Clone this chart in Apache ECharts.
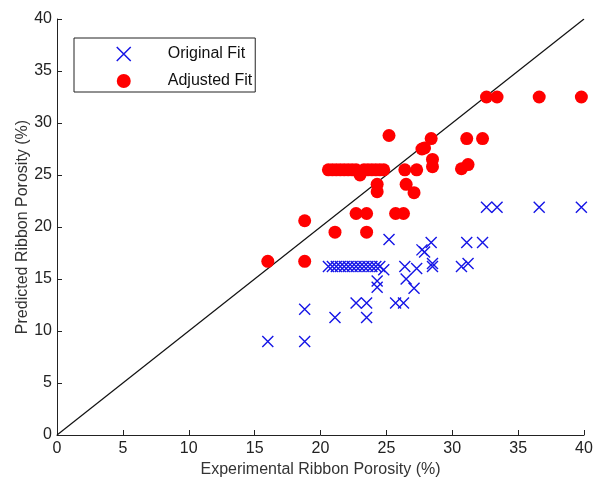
<!DOCTYPE html>
<html><head><meta charset="utf-8">
<script src="https://cdn.jsdelivr.net/npm/echarts@6/dist/echarts.min.js"></script>
<style>html,body{margin:0;padding:0;background:#fff}#c{width:596px;height:484px}</style>
</head><body><div id="c"></div>
<script>
const experimental = [16.0, 18.8, 18.8, 21.1, 23.5, 22.7, 23.5, 25.7, 26.3, 24.3, 24.3, 26.5, 27.1, 25.2, 28.4, 31.1, 32.3, 27.7, 27.9, 28.5, 28.5, 30.7, 31.2, 26.4, 27.3,
  20.6, 20.9, 21.2, 21.5, 21.8, 22.1, 22.4, 22.7, 23.0, 23.3, 23.6, 23.9, 24.2, 24.5, 24.8,
  32.6, 33.4, 36.6, 39.8];
const originalFit = [9.0, 9.0, 12.1, 11.3, 11.3, 12.7, 12.7, 12.7, 12.7, 14.8, 14.2, 15.0, 14.1, 18.8, 18.5, 18.5, 18.5, 17.8, 17.6, 16.5, 16.2, 16.2, 16.5, 16.2, 16.0,
  16.2, 16.2, 16.2, 16.2, 16.2, 16.2, 16.2, 16.2, 16.2, 16.2, 16.2, 16.2, 16.2, 16.2, 15.9,
  21.9, 21.9, 21.9, 21.9];
const adjustedFit = [16.7, 16.7, 20.6, 19.5, 19.5, 21.3, 21.3, 21.3, 21.3, 24.1, 23.4, 24.1, 23.3, 28.8, 28.5, 28.5, 28.5, 27.5, 27.6, 26.5, 25.8, 25.6, 26.0, 25.5, 25.5,
  25.5, 25.5, 25.5, 25.5, 25.5, 25.5, 25.5, 25.5, 25.0, 25.5, 25.5, 25.5, 25.5, 25.5, 25.5,
  32.5, 32.5, 32.5, 32.5];
const axisTicks = [0, 5, 10, 15, 20, 25, 30, 35, 40];
const identityLine = [[0, 0], [40, 40]];

const font = 'Arial, "Liberation Sans", sans-serif';
const crossPath = 'path://M0,0L10,10M10,0L0,10';
const chart = echarts.init(document.getElementById('c'));
const axisCommon = {
  type: 'value', min: axisTicks[0], max: axisTicks[axisTicks.length - 1], interval: 5,
  splitLine: {show: false},
  axisLine: {show: true, lineStyle: {color: '#222', width: 1}},
  axisTick: {show: true, inside: true, length: 5, lineStyle: {color: '#222'}},
  axisLabel: {color: '#222', fontSize: 16, fontFamily: font},
  nameLocation: 'middle',
  nameMoveOverlap: false,
  nameTextStyle: {color: '#333', fontSize: 16, fontFamily: font}
};
chart.setOption({
  animation: false,
  grid: {left: 57, right: 12, top: 19, bottom: 49},
  xAxis: Object.assign({}, axisCommon, {name: 'Experimental Ribbon Porosity (%)', nameGap: 27,
    axisLabel: Object.assign({}, axisCommon.axisLabel, {margin: 6})}),
  yAxis: Object.assign({}, axisCommon, {name: 'Predicted Ribbon Porosity (%)', nameGap: 26,
    axisLabel: Object.assign({}, axisCommon.axisLabel, {margin: 5})}),
  legend: {
    orient: 'vertical', left: 74, top: 38,
    borderColor: '#222', borderWidth: 1,
    padding: [8, 3, 3, 42],
    itemWidth: 14, itemHeight: 14, itemGap: 11,
    textStyle: {color: '#111', fontSize: 16, fontFamily: font, padding: [0, 0, 0, 32]},
    data: [
      {name: 'Original Fit', icon: crossPath, itemStyle: {color: 'transparent', borderColor: '#1515e6', borderWidth: 1.5}},
      {name: 'Adjusted Fit', icon: 'circle', itemStyle: {color: '#ff0000'}}
    ]
  },
  series: [
    {type: 'line', data: identityLine, symbol: 'none', silent: true,
     lineStyle: {color: '#111', width: 1.2}, z: 1},
    {name: 'Original Fit', type: 'scatter', symbol: crossPath, symbolSize: 11,
     itemStyle: {color: 'transparent', borderColor: '#1515e6', borderWidth: 1.4, opacity: 1},
     data: experimental.map((x, i) => [x, originalFit[i]]), z: 2},
    {name: 'Adjusted Fit', type: 'scatter', symbol: 'circle', symbolSize: 13,
     itemStyle: {color: '#ff0000', opacity: 1},
     data: experimental.map((x, i) => [x, adjustedFit[i]]), z: 3}
  ]
});
</script></body></html>
